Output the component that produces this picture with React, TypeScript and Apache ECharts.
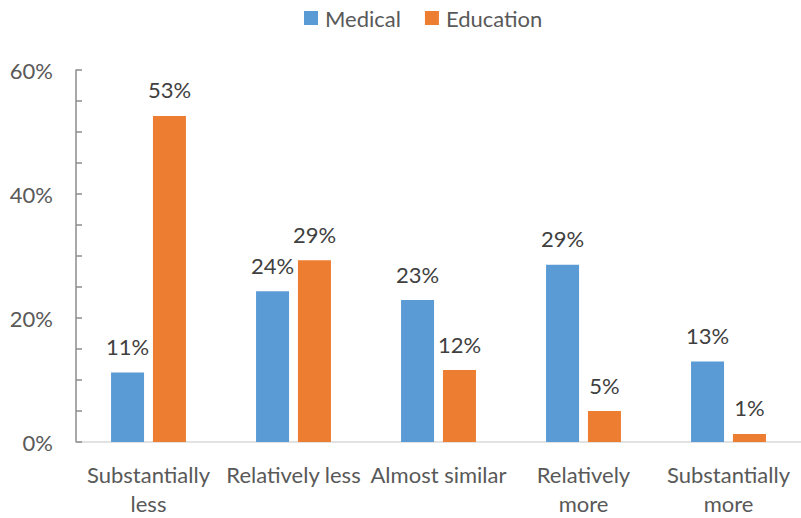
import React, { useEffect, useRef } from "react";
import * as echarts from "echarts";

// Survey answers per category, in percent
const categories = [
  "Substantially\nless",
  "Relatively less",
  "Almost similar",
  "Relatively\nmore",
  "Substantially\nmore",
];
const medical = [11.2, 24.3, 22.9, 28.6, 13.0];
const education = [52.6, 29.3, 11.6, 5.0, 1.3];
const seriesNames = ["Medical", "Education"];
const yTicks = { min: 0, max: 60, interval: 20 };

const FONT = "Lato, 'Open Sans', sans-serif";
const BLUE = "#5b9bd5";
const ORANGE = "#ed7d31";

export default function App() {
  const ref = useRef<HTMLDivElement>(null);

  useEffect(() => {
    document.body.style.margin = "0";
    if (!ref.current) return;
    const chart = echarts.init(ref.current, undefined, { renderer: "svg" });

    const label = {
      show: true,
      position: "top" as const,
      distance: 15,
      color: "#404040",
      fontFamily: FONT,
      fontSize: 22,
      formatter: (p: any) => `${Math.round(p.value)}%`,
    };

    chart.setOption({
      animation: false,
      textStyle: { fontFamily: FONT },
      legend: {
        top: 2,
        left: 299,
        itemWidth: 14,
        itemHeight: 14,
        itemGap: 24,
        icon: "rect",
        textStyle: { color: "#595959", fontSize: 22, fontFamily: FONT, padding: [0, 0, 0, 2] },
        data: seriesNames,
      },
      grid: { left: 76, top: 70, width: 736, height: 375, containLabel: false },
      xAxis: {
        type: "category",
        data: categories,
        axisLine: { lineStyle: { color: "#d9d9d9", width: 1.5 } },
        axisTick: { show: false },
        axisLabel: {
          interval: 0,
          color: "#595959",
          fontSize: 22,
          fontFamily: FONT,
          lineHeight: 29,
          margin: 18,
        },
      },
      yAxis: {
        type: "value",
        min: yTicks.min,
        max: yTicks.max,
        interval: yTicks.interval,
        axisLine: { show: true, lineStyle: { color: "#8c8c8c", width: 1.5 } },
        axisTick: { show: true, inside: true, length: 6, lineStyle: { color: "#8c8c8c", width: 1.5 } },
        minorTick: { show: true, splitNumber: 4, length: 6, lineStyle: { color: "#8c8c8c", width: 1.5 } },
        splitLine: { show: false },
        axisLabel: {
          color: "#595959",
          fontSize: 22,
          fontFamily: FONT,
          margin: 23,
          formatter: (v: number) => `${v}%`,
        },
      },
      series: [
        {
          name: seriesNames[0],
          type: "bar",
          data: medical,
          barWidth: 33,
          barGap: "27%",
          itemStyle: { color: BLUE },
          label,
        },
        {
          name: seriesNames[1],
          type: "bar",
          data: education,
          barWidth: 33,
          barGap: "27%",
          itemStyle: { color: ORANGE },
          label,
        },
      ],
    });

    return () => chart.dispose();
  }, []);

  return <div ref={ref} style={{ width: 801, height: 518 }} />;
}
